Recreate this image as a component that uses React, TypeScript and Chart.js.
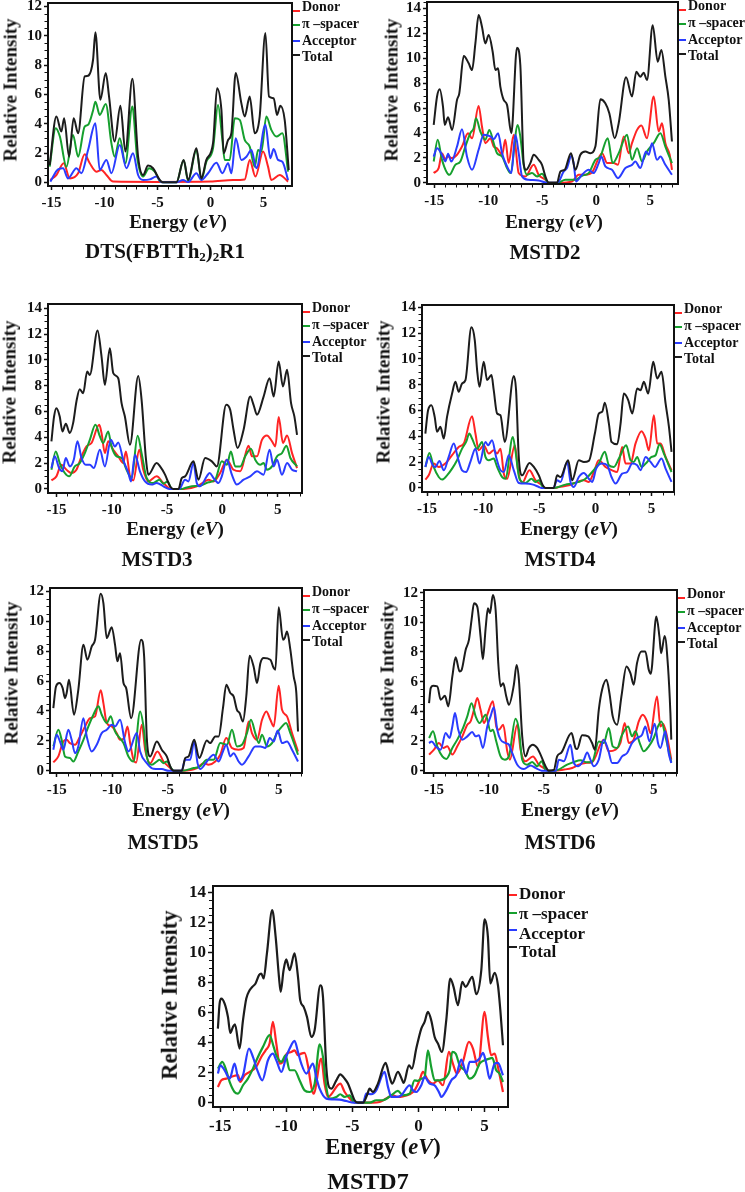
import React, { useEffect, useRef } from "react";
import { Chart, registerables } from "chart.js";

Chart.register(...registerables);

type Pt = [number, number];

const FONT = "'Liberation Serif', 'Times New Roman', serif";
const seriesNames = ["Donor", "\u03c0 \u2013spacer", "Acceptor", "Total"];
const seriesColors = ["#ff2424", "#16a02e", "#2a3cff", "#1c1c1c"];
const xTickValues = [-15, -10, -5, 0, 5];
const yTicks12 = [0, 2, 4, 6, 8, 10, 12];
const yTicks14 = [0, 2, 4, 6, 8, 10, 12, 14];

// ---------- DTS(FBTTh2)2R1 ----------
const dtsDonor: Pt[] = [[-15.1,0.16],[-14.53,0.5],[-13.84,1.3],[-13.27,0.27],[-12.48,0.62],[-11.86,1.91],[-11.38,1.3],[-10.76,0.73],[-10.28,0.84],[-9.81,0.5],[-9.18,0.05],[-5,0.03],[0,0.05],[2.14,0.16],[3.24,0.2],[3.71,1.53],[4.25,0.39],[4.97,2.1],[5.44,1.07],[5.75,0.16],[6.54,0.5],[7.33,0.05]];
const dtsSpacer: Pt[] = [[-15.16,1.07],[-14.59,3.69],[-14.2,3.12],[-13.58,1.07],[-12.96,3.23],[-12.48,1.75],[-11.86,3.8],[-11.54,3.92],[-11.07,4.9],[-10.85,5.5],[-10.44,4.6],[-9.87,5.35],[-9.34,2.67],[-9.03,1.75],[-8.55,3.0],[-8.02,1.3],[-7.36,5.17],[-6.92,1.75],[-6.35,0.39],[-5.79,0.96],[-5.25,0.73],[-4.72,0.05],[-4.47,0],[-3.2,0],[-2.52,1.5],[-2.1,0.1],[-1.32,2.2],[-0.85,0.2],[-0.38,1.41],[0.25,2.32],[0.72,5.28],[1.13,2.89],[1.35,1.53],[1.82,1.53],[2.3,4.37],[2.77,4.26],[3.24,2.89],[3.71,2.44],[4.18,1.07],[4.5,2.2],[4.81,2.1],[5.28,4.49],[5.75,3.58],[6.23,3.12],[6.79,3.35],[7.33,0.73]];
const dtsAcceptor: Pt[] = [[-15.1,0.05],[-14.37,0.89],[-13.9,0.96],[-13.43,0.27],[-12.64,0.96],[-12.17,0.62],[-11.54,2.2],[-10.85,4.03],[-10.44,0.84],[-9.81,1.53],[-9.34,0.62],[-8.55,2.55],[-7.92,0.96],[-7.3,1.98],[-6.82,0.5],[-6.35,0.16],[-5.72,0.2],[-5.1,0.39],[-4.6,0],[-3.2,0],[-2.58,0.16],[-2.1,0.02],[-1.32,0.62],[-0.85,0.16],[-0.22,0.62],[0.57,1.34],[1.13,0.62],[1.67,1.3],[1.98,0.62],[2.39,3.0],[2.92,1.53],[3.4,1.75],[3.87,2.2],[4.34,0.96],[5.19,3.92],[5.66,1.64],[5.97,2.28],[6.38,1.53],[6.79,1.41],[7.33,0.16]];
const dtsTotal: Pt[] = [[-15.16,1.18],[-14.53,4.49],[-14.06,3.46],[-13.8,4.37],[-13.33,1.75],[-12.9,4.37],[-12.48,3.35],[-11.86,7.22],[-11.54,7.27],[-11.07,8.36],[-10.85,10.23],[-10.38,5.63],[-9.87,7.45],[-9.56,5.85],[-9.03,2.78],[-8.49,5.22],[-8.02,2.1],[-7.36,7.06],[-6.82,1.75],[-6.35,0.5],[-5.88,1.14],[-5.41,0.96],[-4.78,0.16],[-4.47,0],[-3.2,0],[-2.52,1.53],[-2.1,0.16],[-1.32,2.32],[-0.85,0.27],[-0.38,1.53],[0.25,2.67],[0.63,6.42],[1.04,4.94],[1.26,1.98],[1.67,2.89],[1.98,3.35],[2.39,7.45],[2.92,5.4],[3.24,4.49],[3.71,5.85],[4.18,3.35],[4.65,4.49],[5.19,10.18],[5.53,5.85],[5.97,5.74],[6.29,4.6],[6.6,5.22],[7.01,4.26],[7.39,0.84]];

// ---------- MSTD2 ----------
const mstd2Donor: Pt[] = [[-15.06,0.78],[-14.6,1.18],[-14.29,2.38],[-14.0,1.9],[-13.73,2.11],[-13.36,1.98],[-12.9,2.25],[-12.44,2.91],[-11.88,3.98],[-11.51,3.58],[-10.9,6.18],[-10.59,4.52],[-10.28,3.18],[-9.81,3.58],[-9.5,2.91],[-9.2,2.78],[-8.73,2.25],[-8.43,3.45],[-8.12,1.58],[-7.65,3.85],[-7.19,0.78],[-6.57,0.51],[-5.8,1.44],[-5.34,0.64],[-4.72,0.24],[-4.41,0],[-3.49,0],[-2.25,0.1],[-1.64,0.64],[-1.02,0.64],[-0.4,0.83],[0.53,2.38],[1.0,1.58],[1.6,1.58],[2.0,1.44],[2.53,3.72],[3.0,2.38],[3.3,3.18],[3.77,4.25],[4.17,4.6],[4.69,3.58],[5.31,6.93],[5.77,4.12],[6.08,4.79],[6.39,3.18],[6.79,2.25],[7.0,1.04]];
const mstd2Spacer: Pt[] = [[-15.06,1.71],[-14.69,3.45],[-14.29,1.84],[-13.61,0.64],[-13.06,1.44],[-12.59,1.71],[-12.13,2.91],[-11.67,3.98],[-11.36,4.38],[-11.14,5.19],[-10.74,4.12],[-10.28,3.45],[-9.91,4.25],[-9.5,3.18],[-9.2,2.38],[-8.73,2.11],[-8.27,1.18],[-7.96,0.78],[-7.28,4.65],[-7.04,3.72],[-6.73,1.44],[-6.42,0.64],[-5.96,0.78],[-5.49,0.51],[-5.03,0.72],[-4.57,0.1],[-4.4,0],[-3.6,0],[-2.87,0.24],[-1.94,0.24],[-1.33,0.56],[-0.71,0.78],[-0.09,1.84],[0.37,2.11],[1.05,3.58],[1.51,1.58],[2.07,2.38],[2.84,3.85],[3.3,1.84],[3.77,2.78],[4.23,1.71],[4.69,2.51],[5.31,3.18],[5.93,3.98],[6.39,2.91],[7.0,1.58]];
const mstd2Acceptor: Pt[] = [[-15.06,2.11],[-14.75,2.78],[-14.29,2.25],[-13.98,1.71],[-13.73,2.33],[-13.43,1.71],[-12.9,2.91],[-12.44,4.3],[-11.98,2.11],[-11.51,1.04],[-10.9,2.65],[-10.43,3.85],[-9.81,3.72],[-9.5,3.5],[-9.1,3.98],[-8.73,2.38],[-8.27,1.31],[-7.87,0.78],[-7.5,3.85],[-7.19,2.38],[-6.88,0.51],[-6.27,0.24],[-5.34,0.19],[-4.6,0],[-3.6,0],[-3.02,0.91],[-2.72,1.18],[-2.31,2.17],[-2.1,1.58],[-1.88,0.1],[-1.33,0.64],[-0.71,1.04],[-0.25,0.78],[0.22,1.58],[0.46,2.11],[0.83,1.31],[1.45,1.04],[2.0,0.37],[2.69,1.18],[3.3,1.44],[3.61,1.71],[4.07,1.18],[4.6,2.51],[4.85,2.25],[5.15,3.18],[5.62,1.84],[5.93,2.11],[6.39,1.44],[7.0,0.64]];
const mstd2Total: Pt[] = [[-15.06,4.65],[-14.75,6.93],[-14.5,7.51],[-14.2,6.12],[-14.04,4.65],[-13.73,5.27],[-13.36,4.25],[-12.9,6.66],[-12.69,7.19],[-12.28,10.19],[-11.82,9.6],[-11.51,9.06],[-11.2,11.2],[-10.9,13.48],[-10.59,12.54],[-10.28,11.2],[-9.97,11.87],[-9.6,10.53],[-9.35,9.06],[-9.1,9.2],[-8.89,7.73],[-8.58,6.66],[-8.27,6.26],[-7.87,3.98],[-7.35,10.86],[-7.04,9.47],[-6.73,1.58],[-6.51,1.04],[-6.11,1.58],[-5.8,2.25],[-5.34,1.84],[-5.03,1.44],[-4.72,0.51],[-4.41,0],[-3.64,0],[-3.33,0.91],[-2.93,1.04],[-2.35,2.38],[-1.94,1.04],[-1.48,2.25],[-1.02,2.51],[-0.56,2.38],[-0.09,2.91],[0.37,6.71],[0.83,6.39],[1.2,5.59],[1.7,3.58],[2.07,4.79],[2.75,8.48],[3.3,6.93],[3.7,8.93],[4.07,8.53],[4.38,8.85],[4.69,8.26],[5.22,12.67],[5.68,9.73],[6.02,10.67],[6.39,8.53],[6.7,6.66],[7.0,3.32]];

// ---------- MSTD3 ----------
const mstd3Donor: Pt[] = [[-15.45,0.67],[-15.0,0.98],[-14.55,1.88],[-14.09,1.49],[-13.64,1.24],[-13.19,1.49],[-12.73,2.53],[-12.28,3.3],[-11.83,3.56],[-11.13,4.97],[-10.92,4.33],[-10.62,2.78],[-10.32,3.69],[-9.86,3.04],[-9.41,2.53],[-8.96,2.01],[-8.72,2.91],[-8.35,0.98],[-8.05,0.67],[-7.51,3.04],[-7.15,1.49],[-6.69,0.59],[-5.94,0.98],[-5.33,0.46],[-4.8,0.05],[-4.5,0],[-3.5,0],[-2.31,0.21],[-1.71,0.52],[-1.25,0.72],[-0.8,0.59],[-0.2,1.24],[0.41,2.27],[1.01,1.49],[1.62,1.37],[2.37,3.35],[2.67,2.53],[3.13,2.53],[3.58,3.81],[4.03,4.15],[4.49,3.69],[4.79,3.3],[5.09,5.57],[5.48,3.56],[5.85,4.15],[6.3,2.78],[6.75,1.62]];
const mstd3Spacer: Pt[] = [[-15.45,1.49],[-15.06,2.91],[-14.7,2.01],[-14.24,1.24],[-13.85,0.98],[-13.34,1.75],[-12.89,2.01],[-12.43,2.78],[-11.98,3.81],[-11.47,4.97],[-11.07,4.07],[-10.77,3.56],[-10.32,4.46],[-10.02,3.3],[-9.56,2.53],[-9.11,2.4],[-8.66,1.49],[-8.2,0.85],[-7.66,4.12],[-7.3,2.78],[-6.84,0.85],[-6.24,0.46],[-5.69,0.72],[-5.33,0.41],[-4.94,0.59],[-4.6,0.03],[-4.3,0],[-3.7,0],[-3.37,0.08],[-2.76,0.21],[-2.01,0.26],[-1.25,0.52],[-0.65,0.72],[-0.05,2.14],[0.41,1.88],[0.77,2.91],[1.16,1.75],[1.62,1.75],[2.07,2.53],[2.58,3.12],[2.97,2.27],[3.43,1.88],[3.73,2.01],[4.03,1.49],[4.49,1.75],[4.94,2.53],[5.39,2.78],[5.79,3.35],[6.15,2.4],[6.75,1.75]];
const mstd3Acceptor: Pt[] = [[-15.45,1.62],[-15.15,2.53],[-14.76,1.62],[-14.46,1.37],[-14.15,2.4],[-13.79,1.75],[-13.43,2.27],[-13.1,3.69],[-12.73,2.4],[-12.34,1.88],[-11.98,1.88],[-11.62,1.62],[-11.07,3.04],[-10.62,1.75],[-10.08,3.81],[-9.71,3.3],[-9.41,3.61],[-8.96,2.27],[-8.5,1.24],[-8.26,0.59],[-7.9,2.65],[-7.45,1.37],[-6.99,0.59],[-6.39,0.34],[-5.94,0.46],[-5.33,0.21],[-4.8,0],[-3.9,0],[-3.37,0.72],[-3.07,0.59],[-2.61,2.01],[-2.31,0.46],[-2.01,0.21],[-1.41,0.98],[-1.16,1.24],[-0.8,0.85],[-0.35,0.46],[-0.05,0.98],[0.41,2.27],[0.86,1.11],[1.31,0.34],[1.92,0.72],[2.52,0.98],[3.13,1.37],[3.73,1.11],[4.27,3.04],[4.64,1.75],[4.94,2.27],[5.39,1.11],[5.85,2.01],[6.3,1.49],[6.75,1.37]];
const mstd3Total: Pt[] = [[-15.45,3.69],[-15.21,5.62],[-15.0,6.26],[-14.7,5.62],[-14.46,4.46],[-14.15,5.05],[-13.79,4.33],[-13.49,5.1],[-13.19,6.78],[-12.89,7.73],[-12.58,7.42],[-12.22,9.1],[-11.98,8.84],[-11.28,12.27],[-10.92,10.26],[-10.62,8.07],[-10.17,10.9],[-9.86,8.97],[-9.41,8.58],[-9.11,6.65],[-8.81,5.62],[-8.35,3.43],[-7.6,8.76],[-7.3,6.91],[-6.9,2.27],[-6.69,1.11],[-5.94,2.01],[-5.63,1.75],[-5.18,1.11],[-4.73,0.21],[-4.43,0],[-3.97,0],[-3.67,0.85],[-3.37,0.98],[-2.61,2.14],[-2.16,0.72],[-1.56,2.4],[-0.95,2.14],[-0.5,1.75],[0.35,6.52],[0.71,6.13],[1.01,4.59],[1.37,3.17],[1.92,4.59],[2.52,7.16],[2.82,6.52],[3.13,5.75],[3.73,7.16],[4.27,8.58],[4.64,7.16],[5.09,9.87],[5.48,7.94],[5.85,9.23],[6.21,6.65],[6.51,5.62],[6.75,4.2]];

// ---------- MSTD4 ----------
const mstd4Donor: Pt[] = [[-15.15,0.65],[-14.85,0.98],[-14.41,1.89],[-13.96,1.63],[-13.37,1.89],[-12.77,2.54],[-12.18,3.18],[-11.73,3.44],[-10.99,5.56],[-10.69,4.22],[-10.39,2.92],[-9.95,3.31],[-9.5,2.67],[-9.06,2.92],[-8.76,2.67],[-8.46,3.05],[-8.16,1.11],[-7.87,0.72],[-7.18,3.31],[-6.89,1.37],[-6.53,0.39],[-5.88,1.37],[-5.34,0.6],[-4.75,0.21],[-4.45,0],[-3.7,0],[-3.26,0.08],[-2.37,0.21],[-1.63,0.47],[-1.03,0.6],[-0.59,0.47],[-0.14,1.24],[0.3,2.15],[0.9,1.63],[1.49,1.37],[1.94,1.24],[2.38,3.18],[2.68,1.89],[3.13,1.89],[3.57,3.44],[4.11,4.4],[4.47,3.83],[4.76,2.92],[5.21,5.64],[5.5,3.44],[5.8,3.44],[6.25,2.41],[6.78,1.37]];
const mstd4Spacer: Pt[] = [[-15.15,1.63],[-14.79,2.72],[-14.41,1.63],[-13.96,0.85],[-13.66,0.65],[-13.22,0.98],[-12.77,1.5],[-12.33,2.15],[-11.88,3.05],[-11.52,3.57],[-11.23,4.22],[-10.99,3.83],[-10.54,3.05],[-10.1,3.57],[-9.8,2.41],[-9.5,2.15],[-9.06,2.28],[-8.76,1.63],[-8.31,0.85],[-8.02,0.72],[-7.36,3.96],[-7.13,2.92],[-6.77,0.72],[-6.23,0.39],[-5.7,0.72],[-5.34,0.47],[-5.04,0.6],[-4.69,0.08],[-4.45,0],[-3.7,0],[-2.67,0.26],[-2.07,0.34],[-1.48,0.47],[-0.88,0.72],[-0.29,1.24],[0.3,1.89],[0.84,2.8],[1.2,1.76],[1.64,1.63],[2.09,2.28],[2.74,3.31],[3.13,2.15],[3.42,2.02],[3.72,2.41],[4.11,1.63],[4.61,2.02],[5.0,2.41],[5.36,2.54],[5.71,3.39],[6.1,2.67],[6.78,1.24]];
const mstd4Acceptor: Pt[] = [[-15.15,1.63],[-14.85,2.41],[-14.49,1.76],[-14.25,1.63],[-13.9,2.1],[-13.51,1.37],[-13.07,2.41],[-12.62,3.44],[-12.24,2.28],[-11.88,1.37],[-11.52,1.24],[-11.14,2.02],[-10.69,3.05],[-10.33,1.89],[-9.8,3.57],[-9.56,3.31],[-9.21,3.7],[-8.85,2.41],[-8.46,1.37],[-8.16,1.24],[-7.72,2.54],[-7.27,1.37],[-6.83,0.39],[-6.23,0.34],[-5.64,0.28],[-5.04,0.08],[-4.8,0],[-3.75,0],[-3.41,0.6],[-3.11,0.47],[-2.52,2.02],[-2.22,0.47],[-1.92,0.08],[-1.48,0.85],[-1.03,1.16],[-0.59,0.72],[-0.29,0.47],[0.07,1.5],[0.6,1.89],[1.05,1.76],[1.43,0.85],[1.79,0.34],[2.38,1.11],[2.83,1.24],[3.28,1.89],[3.72,1.76],[4.02,1.37],[4.47,2.41],[4.91,2.02],[5.3,1.63],[5.89,2.28],[6.25,1.5],[6.78,0.47]];
const mstd4Total: Pt[] = [[-15.15,4.22],[-14.91,6.03],[-14.61,6.42],[-14.32,5.51],[-14.11,4.35],[-13.81,4.74],[-13.51,3.83],[-13.22,5.51],[-12.77,7.32],[-12.47,8.23],[-12.18,7.45],[-11.88,8.1],[-11.58,8.36],[-11.05,12.45],[-10.75,11.46],[-10.54,9.14],[-10.33,7.84],[-9.95,9.78],[-9.65,8.36],[-9.26,8.75],[-9.06,7.58],[-8.76,5.77],[-8.46,5.64],[-8.08,3.57],[-7.27,8.67],[-7.07,7.58],[-6.83,2.41],[-6.53,0.98],[-5.88,1.94],[-5.49,1.63],[-5.04,0.98],[-4.69,0.21],[-4.45,0],[-3.71,0],[-3.41,0.98],[-3.11,0.85],[-2.43,2.15],[-2.07,0.6],[-1.48,2.15],[-1.03,2.02],[-0.59,2.1],[-0.05,4.22],[0.3,5.77],[0.6,5.9],[0.84,6.6],[1.2,4.99],[1.43,3.57],[1.94,3.39],[2.24,4.99],[2.53,7.32],[2.92,6.81],[3.28,5.77],[3.72,7.71],[4.02,7.58],[4.32,8.23],[4.7,7.32],[5.15,9.78],[5.5,8.49],[5.89,9.0],[6.25,6.55],[6.55,4.74],[6.78,2.8]];

// ---------- MSTD5 ----------
const mstd5Donor: Pt[] = [[-15.3,0.56],[-14.85,0.96],[-14.4,1.96],[-14.1,2.07],[-13.8,1.85],[-13.35,1.74],[-12.89,2.3],[-12.44,2.97],[-11.99,3.52],[-11.54,3.64],[-11.03,5.38],[-10.79,4.53],[-10.49,3.19],[-10.04,2.97],[-9.59,2.52],[-9.29,2.07],[-8.92,2.19],[-8.62,2.97],[-8.38,1.85],[-8.08,0.74],[-7.84,0.56],[-7.33,3.08],[-7.03,1.41],[-6.58,0.51],[-5.92,1.29],[-5.38,0.62],[-4.77,0.18],[-4.5,0],[-3.6,0],[-2.37,0.18],[-1.77,0.51],[-1.32,0.4],[-0.71,0.62],[-0.26,1.07],[0.28,2.19],[0.79,1.52],[1.39,1.41],[1.84,1.52],[2.29,3.3],[2.59,2.52],[3.05,2.07],[3.5,3.41],[3.89,3.97],[4.25,3.41],[4.55,2.97],[5.0,5.69],[5.3,4.08],[5.75,3.64],[6.2,2.52],[6.74,1.29]];
const mstd5Spacer: Pt[] = [[-15.3,1.63],[-14.85,2.74],[-14.55,2.07],[-14.25,0.96],[-13.8,0.85],[-13.5,0.62],[-13.05,1.29],[-12.59,2.07],[-12.14,2.97],[-11.69,3.75],[-11.24,4.31],[-10.94,3.75],[-10.49,3.19],[-10.13,3.64],[-9.74,2.63],[-9.44,2.3],[-8.98,1.85],[-8.53,0.96],[-8.08,0.62],[-7.48,3.97],[-7.18,2.97],[-6.88,0.96],[-6.43,0.4],[-5.98,0.62],[-5.74,0.74],[-5.38,0.51],[-5.08,0.62],[-4.62,0.11],[-4.4,0],[-3.7,0],[-2.67,0.18],[-2.07,0.29],[-1.47,0.74],[-0.86,0.74],[-0.26,1.85],[0.34,1.74],[0.79,2.74],[1.24,1.63],[1.69,1.74],[2.14,2.52],[2.5,3.41],[2.89,2.52],[3.2,1.85],[3.5,2.41],[3.95,1.63],[4.4,1.85],[4.85,2.52],[5.3,2.97],[5.66,3.19],[6.05,2.52],[6.74,1.07]];
const mstd5Acceptor: Pt[] = [[-15.3,1.41],[-15.0,2.41],[-14.7,1.96],[-14.4,1.41],[-13.95,2.74],[-13.65,2.07],[-13.35,1.18],[-13.05,1.63],[-12.59,3.52],[-12.29,2.3],[-11.84,1.29],[-11.39,1.74],[-10.94,2.52],[-10.49,2.74],[-10.04,3.08],[-9.74,2.97],[-9.29,3.41],[-8.83,1.85],[-8.53,1.29],[-7.78,2.52],[-7.48,1.29],[-6.88,0.51],[-6.28,0.13],[-5.53,0.11],[-4.9,0],[-3.75,0],[-3.42,0.74],[-2.97,0.74],[-2.61,1.96],[-2.31,0.51],[-2.07,0.11],[-1.47,0.62],[-0.86,1.07],[-0.41,0.62],[-0.02,1.29],[0.28,1.74],[0.64,0.96],[0.94,1.18],[1.39,0.62],[1.69,0.4],[2.29,0.96],[2.89,1.63],[3.35,1.63],[3.8,1.52],[4.19,2.19],[4.55,1.96],[4.91,2.7],[5.3,1.85],[5.75,1.96],[6.2,1.41],[6.74,0.62]];
const mstd5Total: Pt[] = [[-15.3,4.19],[-15.06,5.64],[-14.76,5.87],[-14.46,5.53],[-14.25,4.86],[-14.1,5.2],[-13.89,6.09],[-13.44,3.75],[-13.05,5.42],[-12.59,8.43],[-12.23,7.43],[-11.84,8.32],[-11.54,8.77],[-11.03,11.84],[-10.79,11.22],[-10.49,8.88],[-10.04,9.61],[-9.74,8.43],[-9.53,7.32],[-9.29,7.87],[-8.98,5.87],[-8.74,5.53],[-8.29,3.52],[-7.39,8.77],[-7.12,7.65],[-6.88,2.19],[-6.58,0.96],[-5.98,1.96],[-5.53,1.41],[-5.08,0.96],[-4.71,0.18],[-4.47,0],[-3.72,0],[-3.42,0.85],[-3.12,0.96],[-2.61,2.07],[-2.16,0.85],[-1.47,2.03],[-1.17,1.85],[-0.71,2.3],[-0.41,2.3],[-0.02,4.19],[0.28,5.76],[0.64,5.2],[0.94,4.97],[1.24,4.08],[1.48,3.86],[1.78,3.3],[2.08,4.97],[2.38,7.7],[2.74,6.98],[3.05,5.87],[3.35,7.2],[3.65,7.54],[4.25,7.43],[4.55,6.87],[4.7,6.76],[5.0,10.95],[5.39,8.77],[5.54,8.88],[5.75,9.32],[6.05,8.1],[6.35,6.31],[6.59,5.2],[6.74,2.63]];

// ---------- MSTD6 ----------
const mstd6Donor: Pt[] = [[-15.45,1.08],[-15.0,1.41],[-14.55,1.86],[-14.15,1.53],[-13.79,1.64],[-13.33,1.08],[-12.88,1.64],[-12.42,2.31],[-11.97,3.1],[-11.67,3.32],[-11.36,4.1],[-11.06,4.89],[-10.76,4.1],[-10.45,3.21],[-10.15,3.77],[-9.64,4.67],[-9.33,2.98],[-9.09,2.76],[-8.7,3.1],[-8.33,1.3],[-8.09,0.74],[-7.42,3.1],[-7.12,1.41],[-6.67,0.63],[-6.0,0.96],[-5.45,0.4],[-4.85,0.11],[-4.55,0],[-4.1,0],[-3.18,0.07],[-2.42,0.18],[-1.82,0.4],[-1.21,0.52],[-0.61,0.56],[0.45,2.09],[0.91,1.3],[1.52,1.41],[1.97,1.86],[2.36,3.21],[2.73,1.86],[3.18,2.09],[3.64,3.32],[4.0,3.77],[4.39,3.32],[4.7,2.53],[5.3,5.0],[5.61,2.98],[5.85,3.16],[6.21,2.31],[6.6,0.74]];
const mstd6Spacer: Pt[] = [[-15.45,2.2],[-15.09,2.65],[-14.7,1.64],[-14.24,0.96],[-13.88,0.79],[-13.33,1.53],[-12.88,2.09],[-12.42,2.76],[-11.97,3.66],[-11.58,4.55],[-11.21,3.66],[-10.85,3.21],[-10.3,3.77],[-9.85,2.65],[-9.64,2.76],[-9.33,1.97],[-8.94,0.96],[-8.55,0.74],[-8.18,0.96],[-7.58,3.5],[-7.27,2.76],[-6.97,0.74],[-6.52,0.4],[-6.06,0.58],[-5.61,0.29],[-5.21,0.63],[-4.85,0.05],[-4.6,0],[-4.0,0],[-2.88,0.4],[-2.27,0.58],[-1.67,0.7],[-1.06,0.56],[-0.6,0.6],[0.0,1.97],[0.45,1.86],[0.91,2.87],[1.27,1.64],[1.67,1.53],[2.06,2.31],[2.67,2.98],[3.03,2.31],[3.33,2.65],[3.73,1.86],[4.09,1.3],[4.55,1.64],[5.0,2.2],[5.39,2.98],[5.7,3.32],[6.06,2.31],[6.6,0.56]];
const mstd6Acceptor: Pt[] = [[-15.45,1.86],[-15.21,1.97],[-14.85,1.64],[-14.39,1.41],[-13.94,2.53],[-13.58,2.2],[-13.33,2.98],[-13.09,3.88],[-12.79,2.76],[-12.42,2.09],[-11.97,2.31],[-11.52,2.6],[-11.21,2.31],[-10.91,2.38],[-10.55,1.53],[-10.15,2.98],[-9.85,3.66],[-9.55,4.28],[-9.24,2.76],[-8.94,2.09],[-8.48,1.86],[-8.18,1.75],[-7.88,1.19],[-7.42,0.4],[-6.82,0.11],[-6.21,0.34],[-5.76,0.18],[-5.2,0],[-3.9,0],[-3.64,0.74],[-3.18,0.63],[-2.58,1.75],[-2.27,0.52],[-1.88,0.29],[-1.36,0.74],[-1.06,1.23],[-0.76,0.74],[-0.45,0.29],[0.0,0.74],[0.45,2.09],[0.85,1.41],[1.21,0.52],[1.67,0.52],[2.12,0.96],[2.58,1.19],[3.03,1.86],[3.48,2.2],[3.94,2.42],[4.24,2.98],[4.61,1.97],[5.09,3.16],[5.39,1.86],[5.61,1.53],[6.06,2.65],[6.36,1.19],[6.6,0.52]];
const mstd6Total: Pt[] = [[-15.45,4.55],[-15.3,5.56],[-15.09,5.72],[-14.7,5.68],[-14.39,4.78],[-14.0,5.05],[-13.7,4.33],[-13.33,6.35],[-13.03,7.65],[-12.67,6.68],[-12.48,6.8],[-12.12,8.14],[-11.82,8.82],[-11.58,10.16],[-11.36,11.28],[-11.06,11.06],[-10.76,9.04],[-10.55,7.51],[-10.3,9.6],[-10.09,10.95],[-9.91,10.61],[-9.64,11.84],[-9.39,10.83],[-9.15,7.25],[-8.94,5.68],[-8.7,5.9],[-8.42,5.0],[-8.18,4.44],[-7.73,5.79],[-7.48,7.13],[-7.27,6.12],[-6.97,2.31],[-6.67,0.96],[-6.36,1.53],[-6.0,1.75],[-5.61,1.53],[-5.3,1.08],[-4.85,0.29],[-4.55,0],[-4.09,0.05],[-3.79,0.96],[-3.39,1.23],[-2.48,2.53],[-2.12,1.53],[-1.97,1.46],[-1.52,2.38],[-0.97,2.31],[-0.61,1.86],[-0.36,1.41],[0.0,4.1],[0.3,5.45],[0.7,6.12],[0.97,5.23],[1.27,3.66],[1.67,3.1],[2.06,5.0],[2.52,7.02],[2.88,6.57],[3.18,5.79],[3.48,7.25],[3.88,8.03],[4.24,8.03],[4.55,6.8],[4.73,6.53],[5.24,10.39],[5.52,9.04],[5.67,7.92],[6.0,9.08],[6.3,7.02],[6.52,3.88],[6.6,2.09]];

// ---------- MSTD7 ----------
const mstd7Donor: Pt[] = [[-15.18,1.05],[-14.92,1.49],[-14.55,1.6],[-14.04,1.76],[-13.66,1.83],[-13.49,1.38],[-13.16,1.83],[-12.78,2.05],[-12.28,2.38],[-11.9,3.05],[-11.57,3.49],[-11.27,3.94],[-11.02,5.39],[-10.76,3.94],[-10.51,2.6],[-10.26,2.72],[-9.96,3.27],[-9.63,3.38],[-9.38,3.49],[-9.12,3.16],[-8.87,3.27],[-8.62,3.32],[-8.37,2.49],[-8.11,1.05],[-7.94,0.6],[-7.36,2.94],[-7.11,1.27],[-6.85,0.38],[-5.92,1.27],[-5.59,0.71],[-5.09,0.16],[-4.8,0],[-3.5,0],[-2.94,0.04],[-2.44,0.27],[-1.94,0.49],[-1.56,0.38],[-1.18,0.42],[-0.67,0.56],[-0.3,0.82],[0.08,1.49],[0.33,2.05],[0.71,1.49],[1.09,1.27],[1.47,1.49],[1.85,1.16],[2.3,3.38],[2.6,2.6],[2.91,1.94],[3.36,2.72],[3.81,4.05],[4.12,3.61],[4.5,2.38],[5.0,6.05],[5.25,4.38],[5.5,3.16],[5.76,3.27],[6.01,2.38],[6.39,0.71]];
const mstd7Spacer: Pt[] = [[-15.18,2.27],[-14.85,2.72],[-14.55,2.16],[-14.29,1.38],[-13.92,0.71],[-13.66,0.6],[-13.28,1.16],[-12.91,1.6],[-12.53,2.27],[-12.15,3.05],[-11.77,3.72],[-11.27,4.5],[-10.96,3.72],[-10.76,3.16],[-10.38,2.72],[-10.06,3.16],[-9.75,2.16],[-9.38,2.16],[-9.0,1.49],[-8.62,0.82],[-8.24,0.71],[-7.86,1.27],[-7.48,3.89],[-7.23,3.05],[-6.98,1.05],[-6.73,0.27],[-6.22,0.38],[-5.92,0.56],[-5.59,0.38],[-5.21,0.49],[-4.96,0.11],[-4.7,0],[-3.7,0],[-3.2,0.16],[-2.69,0.16],[-2.06,0.49],[-1.56,0.78],[-1.18,0.49],[-0.67,0.6],[-0.3,1.49],[-0.04,1.45],[0.21,1.6],[0.46,1.71],[0.71,3.49],[0.96,2.38],[1.22,1.49],[1.6,1.49],[2.1,1.71],[2.35,2.16],[2.55,3.38],[2.81,3.27],[3.11,2.49],[3.49,2.16],[3.87,1.6],[4.24,1.83],[4.62,2.6],[5.0,2.83],[5.38,2.94],[5.58,2.98],[5.88,2.16],[6.13,1.94],[6.39,1.38]];
const mstd7Acceptor: Pt[] = [[-15.18,1.94],[-15.0,2.49],[-14.67,2.16],[-14.29,1.6],[-13.92,2.6],[-13.59,1.49],[-13.28,1.83],[-12.83,3.61],[-12.53,3.05],[-12.15,2.05],[-11.82,1.49],[-11.39,2.83],[-11.02,3.27],[-10.76,2.83],[-10.38,2.05],[-10.01,3.05],[-9.75,3.61],[-9.38,4.12],[-9.12,3.38],[-8.87,2.6],[-8.49,1.94],[-7.99,2.6],[-7.74,1.71],[-7.48,0.93],[-6.98,0.27],[-6.48,0.22],[-5.97,0.2],[-5.47,0.11],[-4.9,0],[-4.2,0],[-3.95,0.6],[-3.58,0.56],[-3.2,0.82],[-2.57,2.05],[-2.31,1.05],[-2.06,0.38],[-1.68,0.38],[-1.3,0.49],[-0.67,1.16],[-0.42,0.82],[-0.17,0.71],[0.21,1.16],[0.46,1.71],[0.84,1.27],[1.22,1.16],[1.6,0.6],[1.72,0.38],[2.1,0.82],[2.48,1.49],[2.86,1.83],[3.24,2.87],[3.62,1.94],[3.87,2.72],[4.24,2.72],[4.62,2.94],[4.88,3.32],[5.13,2.6],[5.38,1.6],[5.76,2.6],[6.01,2.65],[6.39,1.83]];
const mstd7Total: Pt[] = [[-15.18,4.94],[-15.05,6.61],[-14.92,6.94],[-14.67,6.61],[-14.42,5.72],[-14.24,4.65],[-14.04,5.05],[-13.89,5.23],[-13.54,3.61],[-13.28,5.5],[-13.03,6.94],[-12.78,7.5],[-12.58,7.72],[-12.33,7.95],[-12.07,8.5],[-11.9,8.61],[-11.72,8.28],[-11.47,9.95],[-11.07,12.84],[-10.81,11.06],[-10.56,8.39],[-10.43,7.39],[-10.21,8.84],[-10.01,9.55],[-9.75,8.84],[-9.38,9.95],[-9.12,8.39],[-8.95,6.83],[-8.69,6.39],[-8.44,5.72],[-8.11,4.38],[-7.86,4.83],[-7.43,7.83],[-7.23,7.06],[-6.98,2.38],[-6.78,1.05],[-6.6,0.93],[-6.22,1.49],[-5.92,1.89],[-5.59,1.6],[-5.34,1.27],[-5.09,0.71],[-4.84,0.16],[-4.58,0],[-4.2,0],[-3.9,0.49],[-3.7,0.93],[-3.45,0.71],[-3.07,1.27],[-2.49,2.65],[-2.19,1.71],[-1.99,1.27],[-1.56,2.05],[-1.23,1.49],[-1.13,1.31],[-0.72,2.49],[-0.5,2.27],[-0.17,3.61],[0.21,4.94],[0.46,5.39],[0.71,6.05],[0.96,5.5],[1.22,4.38],[1.47,3.94],[1.77,3.38],[2.1,5.5],[2.4,8.28],[2.65,7.72],[2.98,6.5],[3.31,8.06],[3.56,7.72],[4.07,8.39],[4.37,7.23],[4.75,8.84],[5.0,12.22],[5.25,11.06],[5.43,7.95],[5.76,8.66],[6.01,7.83],[6.19,6.17],[6.39,3.83]];

// ---------- layout ----------
type Box = { l: number; t: number; r: number; b: number };
type PanelSpec = {
  key: string;
  caption: React.ReactNode;
  series: Pt[][];
  xRange: [number, number];
  yRange: [number, number];
  yTicks: number[];
  box: Box;
  yTitle: [number, number];
  xTitle: [number, number];
  cap: [number, number];
  big: boolean;
};

const subStyle: React.CSSProperties = { fontSize: "0.62em", verticalAlign: "-0.3em" };

const panels: PanelSpec[] = [
  { key: "p1", caption: <>DTS(FBTTh<sub style={subStyle}>2</sub>)<sub style={subStyle}>2</sub>R1</>,
    series: [dtsDonor, dtsSpacer, dtsAcceptor, dtsTotal], xRange: [-15.32, 7.7], yRange: [-0.25, 12.23], yTicks: yTicks12,
    box: { l: 48, t: 3, r: 292, b: 186 }, yTitle: [10, 90], xTitle: [178, 221], cap: [165, 252], big: false },
  { key: "p2", caption: "MSTD2",
    series: [mstd2Donor, mstd2Spacer, mstd2Acceptor, mstd2Total], xRange: [-15.68, 7.56], yRange: [-0.1, 14.53], yTicks: yTicks14,
    box: { l: 427, t: 2, r: 678, b: 184 }, yTitle: [391, 90], xTitle: [554, 221], cap: [545, 252], big: false },
  { key: "p3", caption: "MSTD3",
    series: [mstd3Donor, mstd3Spacer, mstd3Acceptor, mstd3Total], xRange: [-15.76, 7.2], yRange: [-0.31, 14.33], yTicks: yTicks14,
    box: { l: 48, t: 304, r: 302, b: 493 }, yTitle: [9, 392], xTitle: [175, 528], cap: [157, 559], big: false },
  { key: "p4", caption: "MSTD4",
    series: [mstd4Donor, mstd4Spacer, mstd4Acceptor, mstd4Total], xRange: [-15.45, 7.0], yRange: [-0.31, 14.18], yTicks: yTicks14,
    box: { l: 422, t: 305, r: 674, b: 492 }, yTitle: [383, 392], xTitle: [569, 528], cap: [560, 559], big: false },
  { key: "p5", caption: "MSTD5",
    series: [mstd5Donor, mstd5Spacer, mstd5Acceptor, mstd5Total], xRange: [-15.6, 7.1], yRange: [-0.15, 12.23], yTicks: yTicks12,
    box: { l: 50, t: 588, r: 302, b: 773 }, yTitle: [11, 673], xTitle: [181, 809], cap: [163, 842], big: false },
  { key: "p6", caption: "MSTD6",
    series: [mstd6Donor, mstd6Spacer, mstd6Acceptor, mstd6Total], xRange: [-15.91, 7.12], yRange: [-0.16, 12.18], yTicks: yTicks12,
    box: { l: 424, t: 590, r: 677, b: 773 }, yTitle: [387, 673], xTitle: [570, 809], cap: [560, 842], big: false },
  { key: "p7", caption: "MSTD7",
    series: [mstd7Donor, mstd7Spacer, mstd7Acceptor, mstd7Total], xRange: [-15.55, 6.77], yRange: [-0.29, 14.45], yTicks: yTicks14,
    box: { l: 213, t: 886, r: 508, b: 1107 }, yTitle: [170, 995], xTitle: [383, 1147], cap: [368, 1181], big: true },
];

const ML = 52, MT = 12, MR = 4, MB = 36;

function PanelChart({ p }: { p: PanelSpec }) {
  const ref = useRef<HTMLCanvasElement>(null);
  const { l, t, r, b } = p.box;
  const W = r - l + ML + MR;
  const H = b - t + MT + MB;
  useEffect(() => {
    if (!ref.current) return;
    const tickSize = p.big ? 17 : 15;
    const tickFont = { family: FONT, size: tickSize, weight: "bold" as const };
    const zeroPad = (s: any) => {
      s.paddingLeft = 0; s.paddingRight = 0; s.paddingTop = 0; s.paddingBottom = 0;
    };
    const framePlugin = {
      id: "frame",
      afterDatasetsDraw(chart: any) {
        const { ctx, chartArea: a, scales } = chart;
        ctx.save();
        ctx.strokeStyle = "#111";
        ctx.lineWidth = 2;
        ctx.strokeRect(a.left, a.top, a.right - a.left, a.bottom - a.top);
        ctx.lineWidth = 1;
        ctx.beginPath();
        const xs = scales.x, ys = scales.y;
        const minorLen = p.big ? 3 : 2.5;
        for (let v = Math.ceil(xs.min); v <= xs.max; v += 1) {
          if (v % 5 === 0) continue;
          const px = Math.round(xs.getPixelForValue(v)) + 0.5;
          ctx.moveTo(px, a.bottom + 1);
          ctx.lineTo(px, a.bottom + 1 + minorLen);
        }
        for (let v = Math.ceil(ys.min * 2) / 2; v <= ys.max; v += 0.5) {
          if (Math.abs(v % 2) < 1e-6) continue;
          const py = Math.round(ys.getPixelForValue(v)) + 0.5;
          ctx.moveTo(a.left - 1, py);
          ctx.lineTo(a.left - 1 - minorLen, py);
        }
        ctx.stroke();
        ctx.restore();
      },
    };
    const chart = new Chart(ref.current, {
      type: "line",
      data: {
        datasets: p.series.map((s, i) => ({
          label: seriesNames[i],
          data: s.map(([x, y]) => ({ x, y })),
          borderColor: seriesColors[i],
          borderWidth: p.big ? 2.2 : 2,
          pointRadius: 0,
          fill: false,
          cubicInterpolationMode: "monotone" as const,
          order: 3 - i,
        })),
      },
      options: {
        animation: false,
        responsive: false,
        maintainAspectRatio: false,
        events: [],
        layout: { padding: { left: 0, top: MT, right: MR, bottom: 0 } },
        plugins: { legend: { display: false }, tooltip: { enabled: false } },
        scales: {
          x: {
            type: "linear",
            min: p.xRange[0],
            max: p.xRange[1],
            afterBuildTicks: (s: any) => { s.ticks = xTickValues.map((v) => ({ value: v })); },
            afterFit: (s: any) => { s.height = MB; zeroPad(s); },
            grid: { display: true, drawOnChartArea: false, drawTicks: true, tickLength: p.big ? 5 : 4, tickColor: "#111", tickWidth: 1.5 },
            border: { display: false },
            ticks: { autoSkip: false, maxRotation: 0, padding: 4, color: "#111", font: tickFont, callback: (v: any) => String(v) },
          },
          y: {
            type: "linear",
            min: p.yRange[0],
            max: p.yRange[1],
            afterBuildTicks: (s: any) => { s.ticks = p.yTicks.map((v) => ({ value: v })); },
            afterFit: (s: any) => { s.width = ML; zeroPad(s); },
            grid: { display: true, drawOnChartArea: false, drawTicks: true, tickLength: p.big ? 5 : 4, tickColor: "#111", tickWidth: 1.5 },
            border: { display: false },
            ticks: { autoSkip: false, padding: 2, color: "#111", font: tickFont, callback: (v: any) => String(v) },
          },
        },
      },
      plugins: [framePlugin],
    } as any);
    return () => chart.destroy();
  }, [p]);
  return (
    <canvas
      ref={ref}
      width={W}
      height={H}
      style={{ position: "absolute", left: l - ML, top: t - MT, width: W, height: H }}
    />
  );
}

const textOffsSmall = [3.5, 20.5, 37.5, 53.5];
const dashOffsSmall = [8, 22, 37.5, 52];
const textOffsBig = [6.5, 26.5, 46.5, 64.5];
const dashOffsBig = [9, 27, 44, 61];

function PanelTexts({ p }: { p: PanelSpec }) {
  const { r, t } = p.box;
  const titleSize = p.big ? 22.5 : 19;
  const legSize = p.big ? 17 : 14;
  const capSize = p.big ? 24 : 21;
  const tOff = p.big ? textOffsBig : textOffsSmall;
  const dOff = p.big ? dashOffsBig : dashOffsSmall;
  const base: React.CSSProperties = { position: "absolute", whiteSpace: "nowrap", lineHeight: 1 };
  return (
    <>
      <div style={{ ...base, left: p.yTitle[0], top: p.yTitle[1], fontSize: titleSize, transform: "translate(-50%,-50%) rotate(-90deg)" }}>
        Relative Intensity
      </div>
      <div style={{ ...base, left: p.xTitle[0], top: p.xTitle[1], fontSize: titleSize, transform: "translate(-50%,-50%)" }}>
        Energy (<i>eV</i>)
      </div>
      <div style={{ ...base, left: p.cap[0], top: p.cap[1], fontSize: capSize, transform: "translate(-50%,-50%)" }}>
        {p.caption}
      </div>
      {seriesNames.map((n, i) => (
        <React.Fragment key={n}>
          <div style={{ position: "absolute", left: r + 1, top: t + dOff[i] - 1, width: p.big ? 8 : 7, height: 2, background: seriesColors[i] }} />
          <div style={{ ...base, left: r + (p.big ? 11 : 10), top: t + tOff[i], fontSize: legSize, transform: "translateY(-50%)" }}>
            {n}
          </div>
        </React.Fragment>
      ))}
    </>
  );
}

export default function App() {
  return (
    <div
      style={{
        position: "absolute",
        left: 0,
        top: 0,
        width: 745,
        height: 1192,
        overflow: "hidden",
        background: "#fff",
        fontFamily: FONT,
        fontWeight: "bold",
        color: "#111",
      }}
    >
      {panels.map((p) => (
        <React.Fragment key={p.key}>
          <PanelChart p={p} />
          <PanelTexts p={p} />
        </React.Fragment>
      ))}
    </div>
  );
}
